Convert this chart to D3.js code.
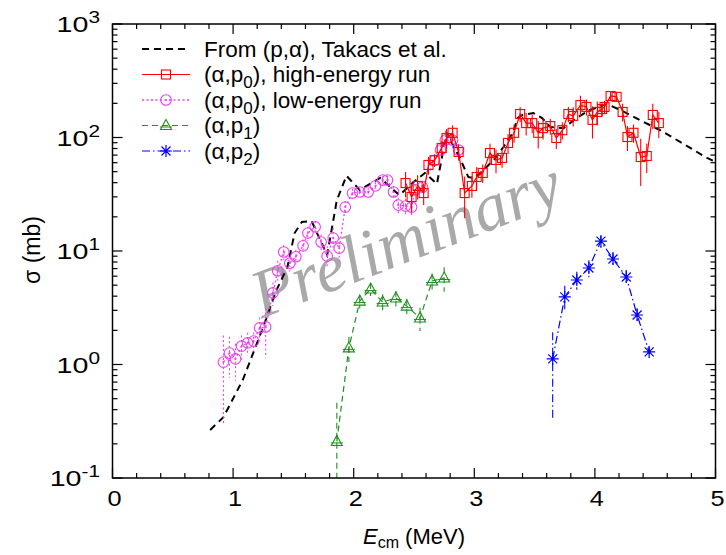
<!DOCTYPE html>
<html>
<head>
<meta charset="utf-8">
<script src="https://cdn.jsdelivr.net/npm/d3@7"></script>
<style>
body { margin: 0; background: #fff; }
text { font-family: "Liberation Sans", Arial, sans-serif; fill: #000; }
</style>
</head>
<body>
<svg id="chart" width="726" height="555"></svg>
<script>
// (p,alpha) curve, Takacs et al.
var takE = [0.81,0.92,1.08,1.25,1.36,1.45,1.51,1.57,1.65,1.78,1.86,1.94,2.05,2.22,2.33,2.38,2.49,2.59,2.69,2.77,2.88,2.95,2.99,3.05,3.16,3.24,3.32,3.36,3.40,3.49,3.56,3.63,3.74,3.85,3.96,4.10,4.21,4.37,4.54,4.71,4.93,5.0];
var takS = [0.265,0.344,0.73,2.14,4.53,7.2,14.4,18.0,18.4,9.2,28,46,34.5,44,34.5,31,40,48.7,39,110,66,45,44,48.7,63,82,110,149,158,164,149,124,121,149,175,197,175,143,116,91,66,61];

// (alpha,p0) high-energy run
var hiE = [2.43,2.48,2.53,2.58,2.62,2.67,2.73,2.77,2.82,2.87,2.92,2.98,3.02,3.07,3.13,3.18,3.23,3.28,3.33,3.38,3.43,3.48,3.53,3.57,3.63,3.68,3.73,3.78,3.82,3.88,3.93,3.98,4.02,4.06,4.08,4.13,4.18,4.23,4.27,4.32,4.38,4.43,4.48,4.53];
var hiS = [39.7,29.9,37.4,32.4,57.3,63,80.8,99,110,74.5,32.4,37.4,44.9,48.7,73,63.4,66,89.5,110,161,134,134,110,121,126,99,116,161,155,193,186,143,168,178,186,232,228,168,101,110,67.3,68.7,158,134];
var hiErr = [10,8,9,7,10,8,12,20,18,12,13,8,10,9,15,15,12,18,20,25,30,25,30,25,20,20,20,25,30,40,30,45,40,25,25,20,20,30,25,20,30,20,40,35];

// (alpha,p0) low-energy run
var loE = [0.92,0.97,1.02,1.07,1.12,1.17,1.22,1.27,1.33,1.37,1.42,1.47,1.52,1.58,1.62,1.68,1.73,1.78,1.83,1.88,1.93,1.99,2.05,2.12,2.18,2.24,2.28,2.33,2.37,2.43,2.48,2.51,2.57,2.67,2.72,2.76,2.82,2.87];
var loS = [1.05,1.26,1.12,1.45,1.55,1.61,2.1,2.14,4.27,6.7,9.8,7.8,8.9,11.1,14.4,16.3,12.0,9.0,13.0,10.6,24.4,32.4,33.1,33.1,37.4,42.2,42.2,33.1,25.4,24.9,24.4,34.5,36.6,63,77.6,95,95,77.6];
var loErr = [0.75,0.5,0.4,0.35,0.35,0.3,0.5,1.0,1.0,1.5,1.5,1.2,1.3,1.5,2,2,2,2,3,2.5,3,3,3,3,3,4,4,4,4,4,4,4,5,8,8,20,15,10];

// (alpha,p1)
var p1E = [1.86,1.96,2.05,2.14,2.24,2.35,2.44,2.55,2.65,2.75];
var p1S = [0.21,1.40,3.62,4.62,3.55,3.85,3.27,2.57,5.44,5.78];
var p1Err = [0.25,0.35,0.5,0.6,0.6,0.6,0.5,0.6,0.9,1.4];

// (alpha,p2)
var p2E = [3.65,3.75,3.85,3.95,4.05,4.15,4.26,4.35,4.45];
var p2S = [1.12,3.94,5.55,7.08,12.2,8.5,5.9,2.73,1.29];
var p2Err = [0.8,1.0,1.0,1.2,1.5,1.3,0.9,0.4,0.15];

var xTicks = [0, 1, 2, 3, 4, 5];
var yExp = [-1, 0, 1, 2, 3];

var svg = d3.select("#chart");
var box = {left: 112.5, right: 715.5, top: 24, bottom: 478};

var x = d3.scaleLinear().domain([0, 5]).range([box.left, box.right]);
var y = d3.scaleLog().domain([0.1, 1000]).range([box.bottom, box.top]);

function zip(E, S, err) {
  return E.map(function(e, i) { return {e: e, s: S[i], err: err ? err[i] : 0}; });
}

svg.append("clipPath").attr("id", "clip")
  .append("rect").attr("x", box.left).attr("y", box.top)
  .attr("width", box.right - box.left).attr("height", box.bottom - box.top);

// watermark
svg.append("text")
  .attr("transform", "translate(414,260) rotate(-21)")
  .attr("text-anchor", "middle")
  .style("font-family", "'Liberation Serif', 'Times New Roman', serif")
  .style("font-style", "italic")
  .style("font-size", "68px")
  .style("fill", "#a9a9a9")
  .text("Preliminary");

var plot = svg.append("g").attr("clip-path", "url(#clip)");

var line = d3.line()
  .x(function(d) { return x(d.e); })
  .y(function(d) { return y(Math.max(d.s, 0.01)); });

var series = [
  {data: zip(takE, takS), color: "#000", dash: "7,5", width: 2, marker: null},
  {data: zip(loE, loS, loErr), color: "#f040f0", dash: "2,2.5", width: 1.3, marker: "circle"},
  {data: zip(hiE, hiS, hiErr), color: "#ff0000", dash: null, width: 1.2, marker: "square"},
  {data: zip(p1E, p1S, p1Err), color: "#1f8f1f", dash: "6,4", width: 1.2, marker: "triangle"},
  {data: zip(p2E, p2S, p2Err), color: "#0000ff", dash: "8,3,1.5,3", width: 1.2, marker: "star"}
];

function drawMarker(g, type, color) {
  if (type === "square") {
    g.append("rect").attr("x", -4.5).attr("y", -4.5).attr("width", 9).attr("height", 9)
      .attr("fill", "none").attr("stroke", color).attr("stroke-width", 1.1);
  } else if (type === "circle") {
    g.append("circle").attr("r", 5.3).attr("fill", "none").attr("stroke", color).attr("stroke-width", 1.1);
    g.append("circle").attr("r", 1).attr("fill", color);
  } else if (type === "triangle") {
    g.append("path").attr("d", "M0,-6L5.5,4L-5.5,4Z")
      .attr("fill", "none").attr("stroke", color).attr("stroke-width", 1.1);
    g.append("path").attr("d", "M-6,1.5H6").attr("stroke", color).attr("stroke-width", 1);
  } else if (type === "star") {
    g.append("path").attr("d", "M-6,0H6M0,-6V6M-4.5,-4.5L4.5,4.5M-4.5,4.5L4.5,-4.5")
      .attr("stroke", color).attr("stroke-width", 1.2);
  }
}

series.forEach(function(sr) {
  var g = plot.append("g");
  // error bars
  if (sr.marker) {
    g.selectAll(".err").data(sr.data).enter().append("line")
      .attr("x1", function(d) { return x(d.e); })
      .attr("x2", function(d) { return x(d.e); })
      .attr("y1", function(d) { return y(d.s + d.err); })
      .attr("y2", function(d) { return d.s - d.err > 0.01 ? y(d.s - d.err) : box.bottom + 5; })
      .attr("stroke", sr.color).attr("stroke-width", 1.1)
      .attr("stroke-dasharray", sr.dash);
  }
  g.append("path").datum(sr.data)
    .attr("d", line)
    .attr("fill", "none")
    .attr("stroke", sr.color)
    .attr("stroke-width", sr.width)
    .attr("stroke-dasharray", sr.dash);
  if (sr.marker) {
    g.selectAll(".mk").data(sr.data).enter().append("g")
      .attr("transform", function(d) { return "translate(" + x(d.e) + "," + y(d.s) + ")"; })
      .each(function() { drawMarker(d3.select(this), sr.marker, sr.color); });
  }
});

// frame and ticks (inward, all four sides)
var axes = svg.append("g").attr("stroke", "#000");
axes.append("rect").attr("x", box.left).attr("y", box.top)
  .attr("width", box.right - box.left).attr("height", box.bottom - box.top)
  .attr("fill", "none").attr("stroke-width", 1.5);

var xMinor = d3.range(0, 5.001, 0.2);
xMinor.forEach(function(v) {
  var major = Math.abs(v - Math.round(v)) < 1e-6;
  var len = major ? 10 : 5;
  axes.append("line").attr("x1", x(v)).attr("x2", x(v)).attr("y1", box.bottom).attr("y2", box.bottom - len).attr("stroke-width", 1.2);
  axes.append("line").attr("x1", x(v)).attr("x2", x(v)).attr("y1", box.top).attr("y2", box.top + len).attr("stroke-width", 1.2);
});
yExp.forEach(function(p) {
  for (var m = 1; m <= 9; m++) {
    var v = m * Math.pow(10, p);
    if (v > 1000) break;
    var len = m === 1 ? 10 : 5;
    axes.append("line").attr("x1", box.left).attr("x2", box.left + len).attr("y1", y(v)).attr("y2", y(v)).attr("stroke-width", 1.2);
    axes.append("line").attr("x1", box.right).attr("x2", box.right - len).attr("y1", y(v)).attr("y2", y(v)).attr("stroke-width", 1.2);
  }
});

// tick labels
svg.selectAll(".xl").data(xTicks).enter().append("text")
  .attr("transform", function(d) { return "translate(" + (x(d) + 2) + ",506) scale(1.15,1)"; })
  .attr("text-anchor", "middle")
  .style("font-size", "22px")
  .text(function(d) { return d; });

yExp.forEach(function(p) {
  var t = svg.append("text")
    .attr("transform", "translate(100," + (y(Math.pow(10, p)) + 8) + ") scale(1.3,1)")
    .attr("text-anchor", "end")
    .style("font-size", "22px");
  t.append("tspan").text("10");
  t.append("tspan").attr("dy", -9).style("font-size", "16px").text(p);
});

// axis titles
var xt = svg.append("text").attr("x", 414).attr("y", 544).attr("text-anchor", "middle").style("font-size", "22px");
xt.append("tspan").style("font-style", "italic").text("E");
xt.append("tspan").attr("dy", 4).style("font-size", "16px").text("cm");
xt.append("tspan").attr("dy", -4).text(" (MeV)");

svg.append("text")
  .attr("transform", "translate(40,250) rotate(-90)")
  .attr("text-anchor", "middle")
  .style("font-size", "23px")
  .text("σ (mb)");

// legend
var legendRows = [
  {label: ["From (p,α), Takacs et al."], s: 0},
  {label: ["(α,p", "0", "), high-energy run"], s: 2},
  {label: ["(α,p", "0", "), low-energy run"], s: 1},
  {label: ["(α,p", "1", ")"], s: 3},
  {label: ["(α,p", "2", ")"], s: 4}
];
var legend = svg.append("g");
legendRows.forEach(function(r, i) {
  var yy = 49 + i * 25.5;
  var sr = series[r.s];
  legend.append("line").attr("x1", 142).attr("x2", 190).attr("y1", yy).attr("y2", yy)
    .attr("stroke", sr.color).attr("stroke-width", sr.width).attr("stroke-dasharray", sr.dash);
  if (sr.marker) {
    var mg = legend.append("g").attr("transform", "translate(166," + yy + ")");
    drawMarker(mg, sr.marker, sr.color);
  }
  var t = legend.append("text").attr("x", 204).attr("y", yy + 7.5).style("font-size", "22.5px");
  t.append("tspan").text(r.label[0]);
  if (r.label.length > 1) {
    t.append("tspan").attr("dy", 6).style("font-size", "17px").text(r.label[1]);
    t.append("tspan").attr("dy", -6).text(r.label[2]);
  }
});
</script>
</body>
</html>
